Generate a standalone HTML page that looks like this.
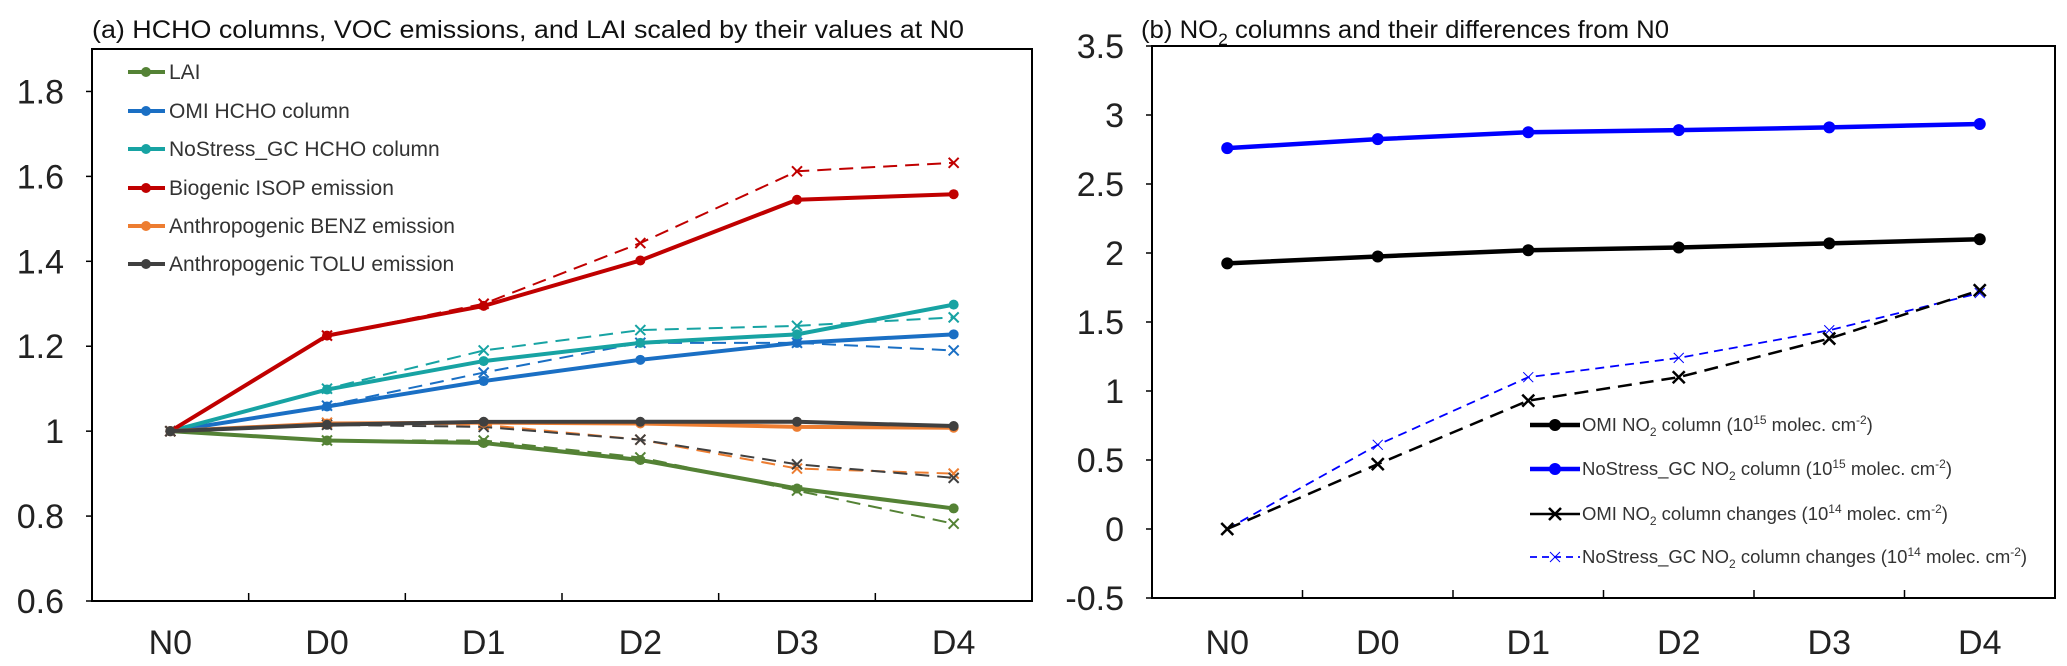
<!DOCTYPE html>
<html><head><meta charset="utf-8"><style>
html,body{margin:0;padding:0;background:#fff;}
svg{display:block;font-family:"Liberation Sans",sans-serif;}
</style></head><body>
<svg id="c" width="2067" height="666" viewBox="0 0 2067 666"></svg>
<script>
const categories=["N0","D0","D1","D2","D3","D4"];
const laiSolid=[1,0.978,0.972,0.932,0.865,0.818];
const laiDash=[1,0.978,0.978,0.938,0.86,0.782];
const omiHchoSolid=[1,1.058,1.118,1.168,1.208,1.228];
const omiHchoDash=[1,1.06,1.138,1.208,1.208,1.19];
const gcHchoSolid=[1,1.098,1.165,1.208,1.228,1.298];
const gcHchoDash=[1,1.1,1.19,1.238,1.248,1.268];
const isopSolid=[1,1.225,1.295,1.402,1.545,1.558];
const isopDash=[1,1.225,1.3,1.443,1.612,1.632];
const benzSolid=[1,1.018,1.02,1.018,1.01,1.008];
const benzDash=[1,1.02,1.015,0.98,0.912,0.9];
const toluSolid=[1,1.015,1.022,1.022,1.022,1.012];
const toluDash=[1,1.015,1.01,0.98,0.922,0.89];
const leftTicks=[0.6,0.8,1,1.2,1.4,1.6,1.8];
const leftTickLabels=["0.6","0.8","1","1.2","1.4","1.6","1.8"];
const omiNo2=[1.925,1.975,2.02,2.04,2.07,2.1];
const gcNo2=[2.76,2.825,2.875,2.89,2.91,2.935];
const omiNo2Chg=[0,0.47,0.93,1.1,1.38,1.73];
const gcNo2Chg=[0,0.61,1.1,1.24,1.44,1.71];
const rightTicks=[-0.5,0,0.5,1,1.5,2,2.5,3,3.5];
const rightTickLabels=["-0.5","0","0.5","1","1.5","2","2.5","3","3.5"];

const svg=document.getElementById('c');
const NS="http://www.w3.org/2000/svg";
function mk(tag,attrs,parent,text){const e=document.createElementNS(NS,tag);for(const k in attrs)e.setAttribute(k,attrs[k]);if(text!==undefined)e.textContent=text;(parent||svg).appendChild(e);return e;}

function panel(P){
  const g=mk('g',{});
  
  
  const xs=i=>P.x0+(P.x1-P.x0)/categories.length*(i+0.5);
  const ys=v=>P.y1-(v-P.vmin)/(P.vmax-P.vmin)*(P.y1-P.y0);
  const box=mk('rect',{x:P.x0,y:P.y0,width:P.x1-P.x0,height:P.y1-P.y0,fill:'none',stroke:'#000','stroke-width':2},g);
  
  
  P.ticks.forEach((t,i)=>{
    mk('line',{x1:P.x0-6,x2:P.x0,y1:ys(t),y2:ys(t),stroke:'#000','stroke-width':1.5},g);
    const tl=mk('text',{x:P.labX,y:ys(t)+12,'text-anchor':'end','font-size':34,fill:'#222'},g,P.tickLabels[i]);
    
    
  });
  categories.forEach((c,i)=>{
    if(i>0){const bx=P.x0+(P.x1-P.x0)/categories.length*i;mk('line',{x1:bx,x2:bx,y1:P.y1,y2:P.y1-8,stroke:'#000','stroke-width':1.5},g);}
    const tl=mk('text',{x:xs(i),y:654,'text-anchor':'middle','font-size':34,fill:'#222'},g,c);
    
    
  });
  P.series.forEach(s=>{
    const sg=mk('g',{},g);
    
    
    const pts=s.data.map((v,i)=>xs(i)+','+ys(v)).join(' ');
    const attrs={points:pts,fill:'none',stroke:s.color,'stroke-width':s.w};
    if(s.dash)attrs['stroke-dasharray']=s.dash;
    mk('polyline',attrs,sg);
    s.data.forEach((v,i)=>{
      const x=xs(i),y=ys(v);
      if(s.marker==='dot')mk('circle',{cx:x,cy:y,r:s.r||5,fill:s.color},sg);
      else {const r=s.r||5;mk('path',{d:`M${x-r},${y-r}L${x+r},${y+r}M${x-r},${y+r}L${x+r},${y-r}`,stroke:s.color,'stroke-width':s.mw||2},sg);}
    });
  });
}

const C={lai:'#548235',omi:'#1a6fc4',gc:'#17a3a3',isop:'#c00000',benz:'#ed7d31',tolu:'#404040'};
panel({name:'panel-a',x0:92,x1:1032,y0:49,y1:601,vmin:0.6,vmax:1.9,labX:64,ticks:leftTicks,tickLabels:leftTickLabels,series:[
 {name:'lai-dashed',data:laiDash,color:C.lai,w:2,dash:'14,8',marker:'x'},
 {name:'omi-hcho-dashed',data:omiHchoDash,color:C.omi,w:2,dash:'14,8',marker:'x'},
 {name:'gc-hcho-dashed',data:gcHchoDash,color:C.gc,w:2,dash:'14,8',marker:'x'},
 {name:'isop-dashed',data:isopDash,color:C.isop,w:2,dash:'14,8',marker:'x'},
 {name:'benz-dashed',data:benzDash,color:C.benz,w:2,dash:'14,8',marker:'x'},
 {name:'tolu-dashed',data:toluDash,color:C.tolu,w:2,dash:'14,8',marker:'x'},
 {name:'lai-line',data:laiSolid,color:C.lai,w:4,marker:'dot'},
 {name:'omi-hcho-line',data:omiHchoSolid,color:C.omi,w:4,marker:'dot'},
 {name:'gc-hcho-line',data:gcHchoSolid,color:C.gc,w:4,marker:'dot'},
 {name:'isop-line',data:isopSolid,color:C.isop,w:4,marker:'dot'},
 {name:'benz-line',data:benzSolid,color:C.benz,w:4,marker:'dot'},
 {name:'tolu-line',data:toluSolid,color:C.tolu,w:4,marker:'dot'}
]});
panel({name:'panel-b',x0:1152,x1:2055,y0:46,y1:598,vmin:-0.5,vmax:3.5,labX:1124,ticks:rightTicks,tickLabels:rightTickLabels,series:[
 {name:'gc-no2-changes',data:gcNo2Chg,color:'#0000ff',w:1.8,dash:'9,6',marker:'x',mw:1,r:5},
 {name:'omi-no2-changes',data:omiNo2Chg,color:'#000',w:2.5,dash:'14,8',marker:'x',mw:2.5,r:6},
 {name:'omi-no2-line',data:omiNo2,color:'#000',w:4.5,marker:'dot',r:6},
 {name:'gc-no2-line',data:gcNo2,color:'#0000ff',w:4.5,marker:'dot',r:6}
]});

// Titles
let t=mk('text',{x:92,y:38,'font-size':25,fill:'#111',textLength:872,lengthAdjust:'spacingAndGlyphs'},svg,'(a) HCHO columns, VOC emissions, and LAI scaled by their values at N0');


t=mk('text',{x:1141,y:38,'font-size':25,fill:'#111',textLength:528,lengthAdjust:'spacingAndGlyphs'},svg);
t.innerHTML='(b) NO<tspan font-size="17" dy="7">2</tspan><tspan dy="-7"> columns and their differences from N0</tspan>';



// Left legend
const legA=[['LAI',C.lai],['OMI HCHO column',C.omi],['NoStress_GC HCHO column',C.gc],['Biogenic ISOP emission',C.isop],['Anthropogenic BENZ emission',C.benz],['Anthropogenic TOLU emission',C.tolu]];
const legAY=[72,111,149,188,226,264];
legA.forEach((e,i)=>{
  const g=mk('g',{});
  
  
  const y=legAY[i];
  mk('line',{x1:128,x2:165,y1:y,y2:y,stroke:e[1],'stroke-width':4},g);
  mk('circle',{cx:146,cy:y,r:5,fill:e[1]},g);
  mk('text',{x:169,y:y+7,'font-size':21,fill:'#333'},g,e[0]);
});

// Right legend
const legB=[['OMI NO','2',' column (10','15',' molec. cm','-2',')','#000','solid'],
 ['NoStress_GC NO','2',' column (10','15',' molec. cm','-2',')','#0000ff','solid'],
 ['OMI NO','2',' column changes (10','14',' molec. cm','-2',')','#000','xblack'],
 ['NoStress_GC NO','2',' column changes (10','14',' molec. cm','-2',')','#0000ff','xblue']];
const legBY=[425,469,514,557];
legB.forEach((e,i)=>{
  const g=mk('g',{});
  
  
  const y=legBY[i];
  if(e[8]==='solid'){mk('line',{x1:1530,x2:1580,y1:y,y2:y,stroke:e[7],'stroke-width':4.5},g);mk('circle',{cx:1555,cy:y,r:6,fill:e[7]},g);}
  else if(e[8]==='xblack'){mk('line',{x1:1530,x2:1580,y1:y,y2:y,stroke:'#000','stroke-width':2.5},g);mk('path',{d:`M1549,${y-6}L1561,${y+6}M1549,${y+6}L1561,${y-6}`,stroke:'#000','stroke-width':2.5},g);}
  else {mk('line',{x1:1530,x2:1580,y1:y,y2:y,stroke:'#0000ff','stroke-width':1.8,'stroke-dasharray':'7,5'},g);mk('path',{d:`M1550,${y-5}L1560,${y+5}M1550,${y+5}L1560,${y-5}`,stroke:'#0000ff','stroke-width':1},g);}
  const tx=mk('text',{x:1582,y:y+6,'font-size':18.5,fill:'#333'},g);
  tx.innerHTML=`${e[0]}<tspan font-size="12" dy="5">${e[1]}</tspan><tspan dy="-5">${e[2]}</tspan><tspan font-size="12" dy="-7">${e[3]}</tspan><tspan dy="7">${e[4]}</tspan><tspan font-size="12" dy="-7">${e[5]}</tspan><tspan dy="7">${e[6]}</tspan>`;
});
</script>
</body></html>
